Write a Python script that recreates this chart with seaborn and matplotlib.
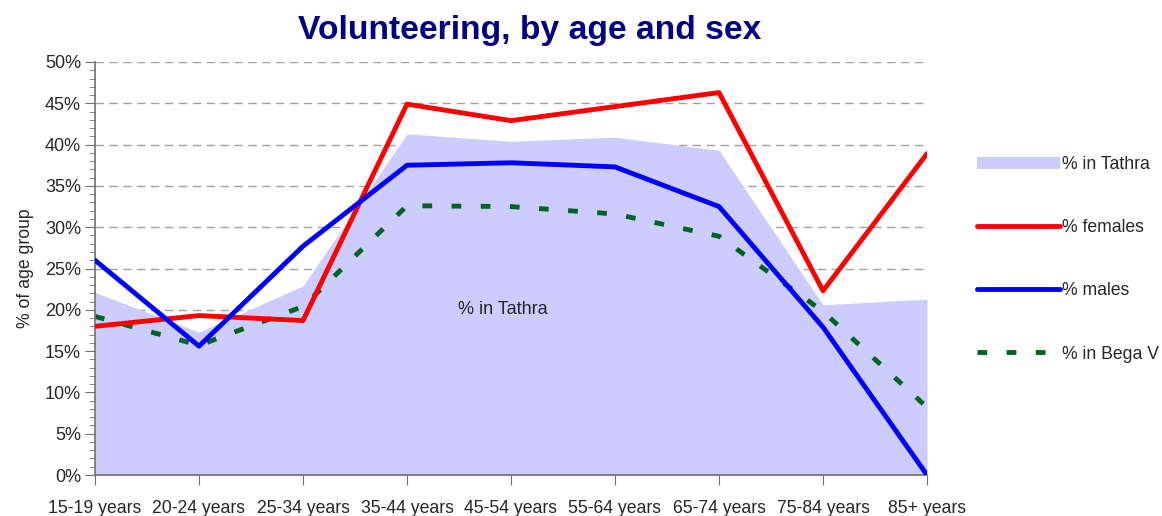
import numpy as np
import pandas as pd
import seaborn as sns
import matplotlib.pyplot as plt
from matplotlib.patches import Patch
from matplotlib.lines import Line2D
from matplotlib.ticker import MultipleLocator, PercentFormatter

ages = ['15-19 years', '20-24 years', '25-34 years', '35-44 years', '45-54 years',
        '55-64 years', '65-74 years', '75-84 years', '85+ years']
tathra = [22.1, 17.3, 22.9, 41.3, 40.4, 40.9, 39.3, 20.6, 21.3]
females = [18.0, 19.3, 18.7, 44.9, 42.9, 44.6, 46.3, 22.3, 38.9]
males = [26.0, 15.6, 27.7, 37.5, 37.8, 37.3, 32.5, 17.9, 0.0]
bega = [19.2, 15.7, 20.4, 32.6, 32.5, 31.6, 28.9, 19.8, 8.2]

sns.set_style("white")
plt.rcParams['font.family'] = ['Liberation Sans', 'DejaVu Sans']

df = pd.DataFrame({'pos': np.arange(len(ages)), 'tathra': tathra,
                   'females': females, 'males': males, 'bega': bega})

dash = (0, (2, 4))

fig = plt.figure(figsize=(11.62, 5.16), dpi=100)
ax = fig.add_axes([95/1162, 1 - 475/516, (927-95)/1162, (475-62)/516])

ax.fill_between(df['pos'], 0, df['tathra'], color='#ccccff', lw=0, zorder=1)
sns.lineplot(data=df, x='pos', y='females', color='#ff0000', lw=3.5, ax=ax, zorder=3)
sns.lineplot(data=df, x='pos', y='males', color='#0000ff', lw=3.5, ax=ax, zorder=3)
sns.lineplot(data=df, x='pos', y='bega', color='#006420', lw=3.5, ax=ax, zorder=2,
             linestyle=dash, dash_capstyle='butt')

ax.text(3.92, 20, '% in Tathra', ha='center', va='center', fontsize=13)

ax.set_xlim(0, 8)
ax.set_ylim(0, 50)
ax.yaxis.set_major_locator(MultipleLocator(5))
ax.yaxis.set_minor_locator(MultipleLocator(1))
ax.yaxis.set_major_formatter(PercentFormatter(decimals=0))
ax.set_xticks(df['pos'])
ax.set_xticklabels(ages)
for y in range(5, 51, 5):
    ax.axhline(y, color='#a0a0a0', lw=1, ls=(0, (6, 4)), zorder=0)
for s in ['top', 'right']:
    ax.spines[s].set_visible(False)
for s in ['left', 'bottom']:
    ax.spines[s].set_color('#707070')
    ax.spines[s].set_linewidth(1.2)
ax.tick_params(axis='y', which='major', left=True, length=7, color='#707070',
               labelsize=13, pad=3)
ax.tick_params(axis='y', which='minor', left=True, length=4, color='#707070')
ax.tick_params(axis='x', bottom=True, length=7, color='#707070', labelsize=12.7, pad=11)
ax.set_xlabel('')
ax.set_ylabel('% of age group', fontsize=12.7, labelpad=8)

fig.text(530/1162, 1 - 30/516, 'Volunteering, by age and sex',
         ha='center', va='center', fontsize=24.2, fontweight='bold', color='#000080')

handles = [Patch(facecolor='#ccccff', edgecolor='none'),
           Line2D([], [], color='#ff0000', lw=3.5),
           Line2D([], [], color='#0000ff', lw=3.5),
           Line2D([], [], color='#006420', lw=3.5, ls=dash, dash_capstyle='butt')]
labels = ['% in Tathra', '% females', '% males', '% in Bega V']
fig.legend(handles, labels, loc='upper left', bbox_to_anchor=(961/1162, 1 - 140/516),
           frameon=False, fontsize=12.7, handlelength=4.7, handletextpad=0.15,
           labelspacing=2.62)

fig.savefig('out.png', dpi=100)
